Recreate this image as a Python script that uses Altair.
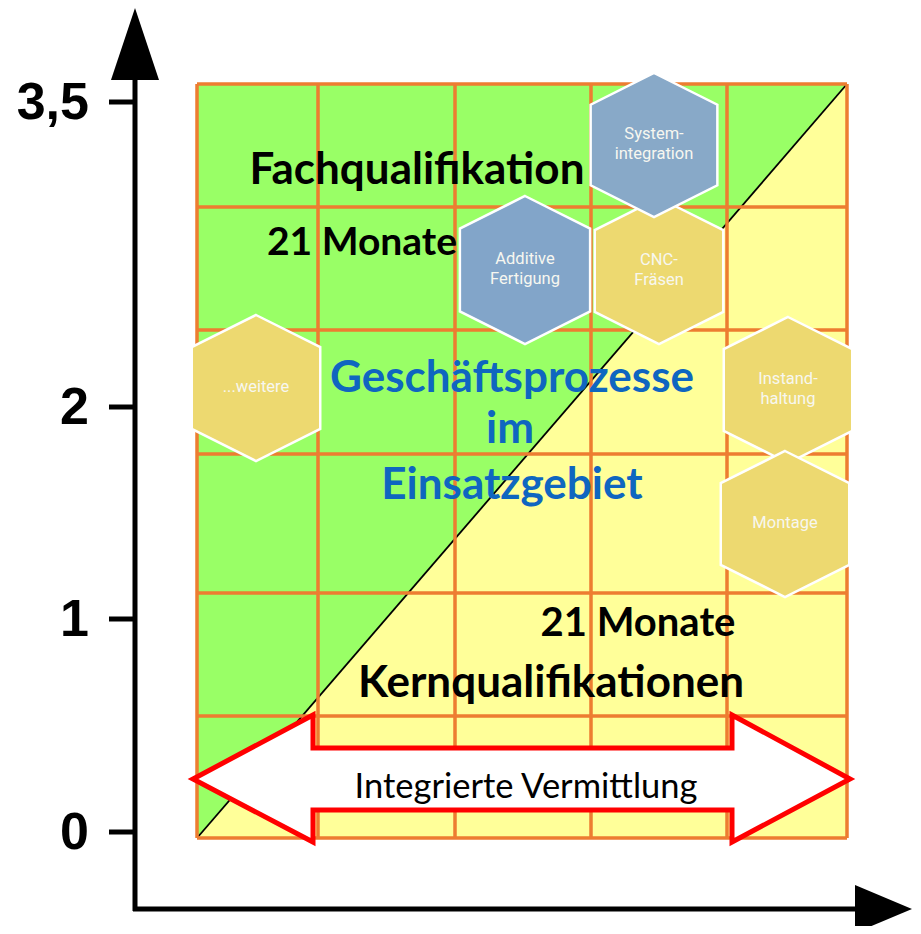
import altair as alt
import pandas as pd

# ---- canvas (pixel-like diagram coordinates) ----
W, H = 905, 918
X0, Y0 = 8, 8

# ---- grid ----
grid_x = [197, 318, 455, 591, 727, 847]
grid_y = [84, 207, 330, 454, 593, 716, 838]

# ---- y axis ticks ----
tick_y = [102, 407, 619, 832]
tick_labels = ["3,5", "2", "1", "0"]

# ---- black titles ----
title_texts = ["Fachqualifikation", "21 Monate", "21 Monate", "Kernqualifikationen"]
title_x = [417, 362, 638, 551]
title_y = [184, 255, 636, 697]
title_fs = [44, 39, 40, 44]

# ---- blue titles ----
blue_texts = ["Geschäftsprozesse", "im", "Einsatzgebiet"]
blue_x = [512, 510, 512]
blue_y = [392, 443, 499]

# ---- hexagons ----
hex_labels = ["CNC-\nFräsen", "System-\nintegration", "Additive\nFertigung",
              "...weitere", "Instand-\nhaltung", "Montage"]
hex_cx = [659, 654, 525, 256, 788, 785]
hex_cy = [271, 145, 270, 388, 390, 524]
hex_r = [73, 72, 74, 73, 73, 73]
hex_fill = ["#EDD970", "#88A9C8", "#82A5C9", "#EDD970", "#EDD970", "#EDD970"]

# ---- double arrow (Integrierte Vermittlung) ----
arrow_outline_x = [520, 732, 732, 850, 732, 732, 313, 313, 193, 313, 313, 520]
arrow_outline_y = [748, 748, 715, 779, 842, 810, 810, 842, 779, 715, 748, 748]
shaft_x = [313, 732]
shaft_y = [748, 810]
head_id = ["L", "L", "R", "R"]
head_x = [193, 313, 732, 850]
head_top = [779, 715, 715, 779]
head_bot = [779, 842, 842, 779]

ORANGE = "#ED7D31"
GREEN = "#99FF66"
YELLOW = "#FFFF99"
HEX_LINE = 20

xs = alt.Scale(domain=[X0, X0 + W], nice=False, zero=False)
ys = alt.Scale(domain=[Y0, Y0 + H], nice=False, zero=False, reverse=True)
X = alt.X("x:Q", scale=xs, axis=None)
Y = alt.Y("y:Q", scale=ys, axis=None)

# background yellow field
bg = alt.Chart(pd.DataFrame({"x": [grid_x[0]], "x2": [grid_x[-1]],
                             "y": [grid_y[0]], "y2": [grid_y[-1]]})).mark_rect(
    color=YELLOW).encode(x=X, x2="x2:Q", y=Y, y2="y2:Q")

# green upper-left triangle
green = alt.Chart(pd.DataFrame({"x": [grid_x[0], grid_x[-1]],
                                "y": [grid_y[0], grid_y[0]],
                                "y2": [grid_y[-1], grid_y[0]]})).mark_area(
    color=GREEN, opacity=1).encode(x=X, y=Y, y2="y2:Q")

diag = alt.Chart(pd.DataFrame({"x": [grid_x[0], grid_x[-1]],
                               "y": [grid_y[-1], grid_y[0]]})).mark_line(
    color="black", strokeWidth=1.8).encode(x=X, y=Y)

vgrid = alt.Chart(pd.DataFrame({"x": grid_x, "y": [grid_y[0]] * len(grid_x),
                                "y2": [grid_y[-1]] * len(grid_x)})).mark_rule(
    color=ORANGE, strokeWidth=3.5).encode(x=X, y=Y, y2="y2:Q")
hgrid = alt.Chart(pd.DataFrame({"y": grid_y, "x": [grid_x[0]] * len(grid_y),
                                "x2": [grid_x[-1]] * len(grid_y)})).mark_rule(
    color=ORANGE, strokeWidth=3.5).encode(x=X, x2="x2:Q", y=Y)

# axes
yaxis = alt.Chart(pd.DataFrame({"x": [135], "y": [78], "y2": [911]})).mark_rule(
    color="black", strokeWidth=5).encode(x=X, y=Y, y2="y2:Q")
xaxis = alt.Chart(pd.DataFrame({"x": [133], "x2": [858], "y": [909]})).mark_rule(
    color="black", strokeWidth=5).encode(x=X, x2="x2:Q", y=Y)
yarrow = alt.Chart(pd.DataFrame({"x": [135], "y": [44]})).mark_point(
    shape="M0,-1L0.667,1L-0.667,1Z", filled=True, color="black", opacity=1,
    size=72 * 72).encode(x=X, y=Y)
xarrow = alt.Chart(pd.DataFrame({"x": [883.5], "y": [909]})).mark_point(
    shape="M1,0L-1,-0.84L-1,0.84Z", filled=True, color="black", opacity=1,
    size=57 * 57).encode(x=X, y=Y)
ticks = alt.Chart(pd.DataFrame({"y": tick_y, "x": [109] * 4, "x2": [135] * 4})).mark_rule(
    color="black", strokeWidth=5).encode(x=X, x2="x2:Q", y=Y)
tlabels = alt.Chart(pd.DataFrame({"y": tick_y, "x": [89] * 4, "t": tick_labels})).mark_text(
    font="Liberation Sans", fontWeight="bold", fontSize=52, align="right",
    baseline="alphabetic", dy=17, color="black").encode(x=X, y=Y, text="t:N")

# titles
titles = alt.Chart(pd.DataFrame({"x": title_x, "y": title_y, "t": title_texts,
                                 "fs": title_fs})).mark_text(
    font="Lato", fontWeight="bold", align="center",
    baseline="alphabetic", color="black").encode(
    x=X, y=Y, text="t:N", size=alt.Size("fs:Q", scale=None))
blue = alt.Chart(pd.DataFrame({"x": blue_x, "y": blue_y, "t": blue_texts})).mark_text(
    font="Lato", fontWeight="bold", fontSize=44, align="center",
    baseline="alphabetic", color="#0F66C0").encode(x=X, y=Y, text="t:N")

# hexagons
hex_df = pd.DataFrame({"x": hex_cx, "y": hex_cy, "s": [(2 * r) ** 2 for r in hex_r],
                       "c": hex_fill, "t": hex_labels, "o": list(range(len(hex_cx)))})
hexes = alt.Chart(hex_df).mark_point(
    shape="M0,-1L0.88,-0.56L0.88,0.56L0,1L-0.88,0.56L-0.88,-0.56Z",
    filled=True, opacity=1, stroke="white", strokeWidth=2.5, strokeOpacity=1).encode(
    x=X, y=Y, size=alt.Size("s:Q", scale=None), fill=alt.Fill("c:N", scale=None),
    order=alt.Order("o:Q"))
# text block centred on each hexagon
hex_txt_df = pd.DataFrame({
    "x": hex_cx,
    "y": [cy - (lab.count("\n")) * HEX_LINE / 2 - 1 for cy, lab in zip(hex_cy, hex_labels)],
    "t": hex_labels})
hextext = alt.Chart(hex_txt_df).mark_text(
    font="Roboto", fontSize=16.5, lineBreak="\n", lineHeight=HEX_LINE, align="center",
    baseline="middle", color="#F7F7F0").encode(x=X, y=Y, text="t:N")

# double arrow: white fill (shaft + two heads), red outline
ashaft = alt.Chart(pd.DataFrame({"x": [shaft_x[0]], "x2": [shaft_x[1]],
                                 "y": [shaft_y[0]], "y2": [shaft_y[1]]})).mark_rect(
    color="white").encode(x=X, x2="x2:Q", y=Y, y2="y2:Q")
aheads = alt.Chart(pd.DataFrame({"x": head_x, "y": head_top, "y2": head_bot,
                                 "g": head_id})).mark_area(
    color="white", opacity=1).encode(x=X, y=Y, y2="y2:Q", detail="g:N")
aline = alt.Chart(pd.DataFrame({"x": arrow_outline_x, "y": arrow_outline_y,
                                "o": list(range(len(arrow_outline_x)))})).mark_line(
    color="#FF0000", strokeWidth=5, strokeJoin="miter").encode(
    x=X, y=Y, order=alt.Order("o:Q"))
atext = alt.Chart(pd.DataFrame({"x": [526], "y": [798], "t": ["Integrierte Vermittlung"]})).mark_text(
    font="Lato", fontSize=34.5, align="center", baseline="alphabetic",
    color="black").encode(x=X, y=Y, text="t:N")

chart = alt.layer(
    bg, green, diag, vgrid, hgrid,
    yaxis, xaxis, yarrow, xarrow, ticks, tlabels,
    titles, blue, hexes, hextext,
    ashaft, aheads, aline, atext,
).properties(
    width=W, height=H, padding=0, autosize=alt.AutoSizeParams(type="none"),
    background="white",
).configure_view(stroke=None)

chart.save("out.html", embed_options={"renderer": "svg", "actions": False})
